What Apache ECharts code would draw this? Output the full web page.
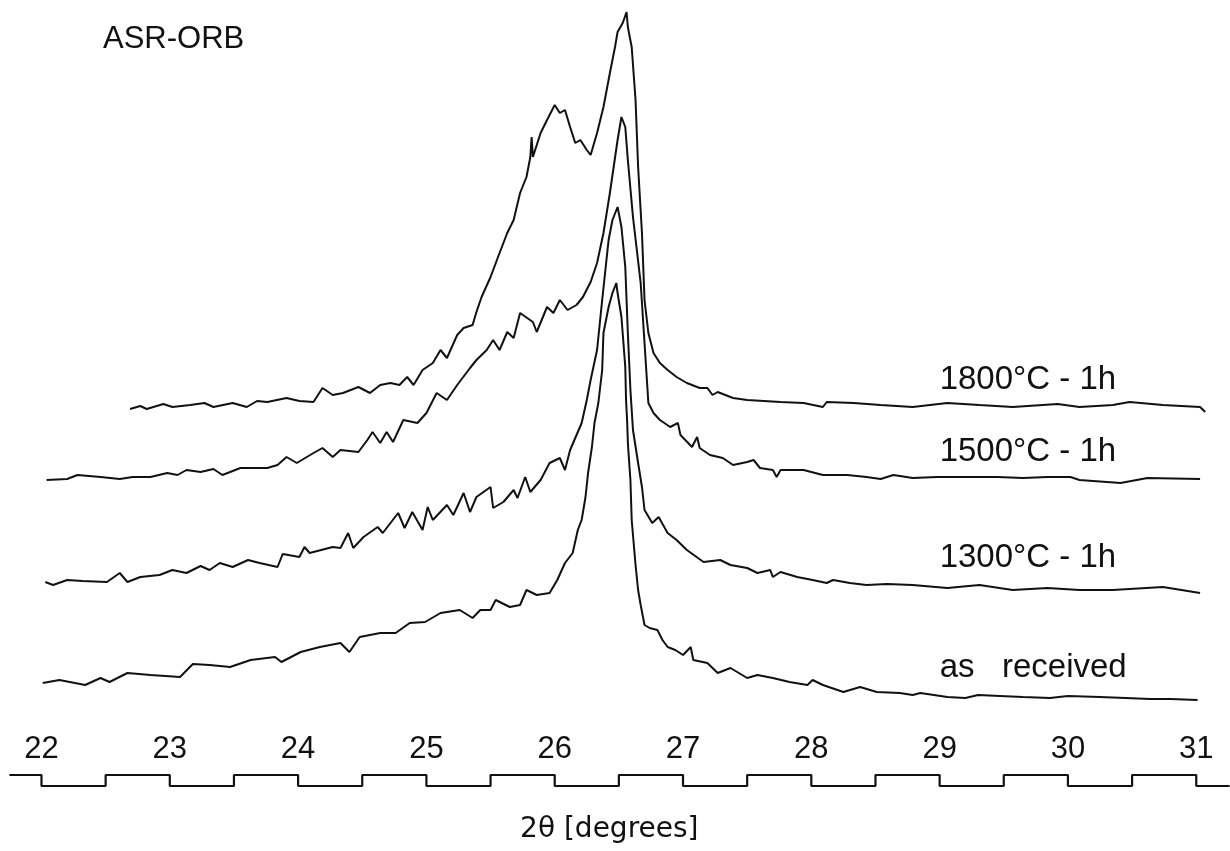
<!DOCTYPE html>
<html>
<head>
<meta charset="utf-8">
<title>ASR-ORB</title>
<script src="https://cdn.jsdelivr.net/npm/echarts@6/dist/echarts.min.js"></script>
<style>
    html, body { margin: 0; padding: 0; background: #fff; }
    #chart { width: 1230px; height: 851px; }
</style>
</head>
<body>
<div id="chart"></div>
<script>
// 2theta [deg] vs intensity (arbitrary units, traces stacked as plotted)
var ticks = [22, 23, 24, 25, 26, 27, 28, 29, 30, 31];
var sampleNames = ['1800°C - 1h', '1500°C - 1h', '1300°C - 1h', 'as   received'];

var asReceived = [
    [22.01, 55], [22.14, 58], [22.34, 53], [22.46, 60], [22.53, 56], [22.67, 65], [22.85, 63],
    [23.08, 61], [23.18, 74], [23.31, 73], [23.47, 71], [23.63, 78], [23.82, 81], [23.87, 76],
    [24.02, 86], [24.17, 91], [24.33, 95], [24.40, 86], [24.48, 101], [24.64, 105], [24.76, 105],
    [24.87, 115], [24.99, 116], [25.11, 125], [25.26, 128], [25.36, 120], [25.42, 128], [25.50, 128],
    [25.54, 138], [25.65, 131], [25.73, 133], [25.78, 148], [25.86, 143], [25.96, 145], [26.02, 158],
    [26.08, 175], [26.14, 185], [26.18, 208], [26.21, 218], [26.24, 241], [26.26, 265], [26.29, 291],
    [26.31, 315], [26.34, 335], [26.37, 368], [26.38, 405], [26.42, 431], [26.45, 445], [26.48, 455],
    [26.49, 445], [26.52, 421], [26.55, 371], [26.556, 338], [26.564, 318], [26.571, 293], [26.59, 258],
    [26.60, 218], [26.63, 173], [26.65, 148], [26.67, 133], [26.70, 113], [26.74, 110], [26.80, 108],
    [26.84, 98], [26.88, 91], [26.94, 88], [27.00, 83], [27.06, 91], [27.08, 78], [27.19, 75],
    [27.27, 65], [27.37, 70], [27.50, 60], [27.58, 63], [27.70, 60], [27.83, 56], [27.97, 53],
    [28.01, 58], [28.09, 53], [28.25, 46], [28.38, 51], [28.51, 46], [28.69, 45], [28.79, 43],
    [28.85, 45], [29.06, 41], [29.20, 40], [29.30, 43], [29.47, 42], [29.65, 41], [29.86, 40],
    [30.00, 42], [30.25, 41], [30.45, 40], [30.64, 39], [30.80, 39], [31.01, 38]
];

var h1300 = [
    [22.03, 156], [22.09, 153], [22.20, 158], [22.32, 157], [22.51, 156], [22.61, 165], [22.67, 156],
    [22.77, 161], [22.92, 163], [23.02, 168], [23.13, 165], [23.24, 172], [23.31, 168], [23.39, 175],
    [23.49, 171], [23.61, 178], [23.70, 175], [23.84, 171], [23.88, 184], [24.01, 181], [24.05, 191],
    [24.09, 185], [24.27, 191], [24.33, 190], [24.39, 205], [24.43, 190], [24.51, 201], [24.62, 211],
    [24.66, 205], [24.78, 225], [24.83, 210], [24.89, 226], [24.97, 208], [25.01, 231], [25.05, 218],
    [25.16, 233], [25.21, 223], [25.29, 245], [25.34, 226], [25.39, 241], [25.50, 251], [25.52, 230],
    [25.60, 236], [25.68, 248], [25.71, 240], [25.77, 261], [25.81, 246], [25.89, 258], [25.96, 275],
    [26.04, 280], [26.08, 268], [26.12, 288], [26.17, 303], [26.21, 315], [26.25, 338], [26.28, 358],
    [26.33, 388], [26.37, 438], [26.42, 498], [26.45, 518], [26.49, 531], [26.52, 511], [26.55, 471],
    [26.57, 405], [26.59, 348], [26.61, 308], [26.65, 275], [26.68, 251], [26.70, 228], [26.76, 215],
    [26.81, 221], [26.88, 205], [26.95, 198], [27.03, 188], [27.16, 176], [27.29, 178], [27.37, 173],
    [27.50, 170], [27.58, 165], [27.68, 168], [27.70, 161], [27.76, 166], [27.89, 161], [28.01, 158],
    [28.12, 155], [28.17, 158], [28.30, 155], [28.43, 153], [28.59, 154], [28.79, 153], [29.06, 150],
    [29.31, 153], [29.57, 148], [29.84, 150], [30.09, 148], [30.35, 148], [30.74, 151], [31.03, 145]
];

var h1500 = [
    [22.04, 258], [22.20, 259], [22.28, 263], [22.46, 261], [22.61, 259], [22.71, 261], [22.85, 261],
    [22.98, 265], [23.06, 263], [23.13, 268], [23.24, 266], [23.34, 269], [23.41, 263], [23.55, 270],
    [23.76, 270], [23.84, 273], [23.91, 281], [23.99, 275], [24.12, 285], [24.19, 290], [24.27, 281],
    [24.33, 288], [24.47, 286], [24.54, 298], [24.58, 306], [24.64, 295], [24.69, 306], [24.74, 296],
    [24.82, 318], [24.93, 315], [25.00, 325], [25.08, 345], [25.16, 338], [25.24, 353], [25.34, 370],
    [25.39, 378], [25.47, 388], [25.52, 398], [25.57, 388], [25.63, 406], [25.68, 400], [25.73, 425],
    [25.83, 416], [25.86, 406], [25.94, 431], [25.99, 425], [26.04, 438], [26.10, 428], [26.17, 433],
    [26.22, 441], [26.28, 456], [26.33, 475], [26.38, 505], [26.43, 545], [26.49, 598], [26.52, 621],
    [26.55, 611], [26.57, 578], [26.61, 521], [26.67, 455], [26.70, 395], [26.73, 335], [26.77, 325],
    [26.82, 318], [26.90, 311], [26.96, 315], [26.98, 303], [27.07, 291], [27.11, 301], [27.13, 290],
    [27.21, 283], [27.31, 280], [27.39, 273], [27.50, 276], [27.55, 278], [27.60, 270], [27.70, 268],
    [27.73, 261], [27.76, 268], [27.94, 268], [28.09, 263], [28.28, 263], [28.43, 261], [28.54, 259],
    [28.64, 263], [28.79, 260], [28.98, 261], [29.18, 261], [29.45, 261], [29.65, 260], [29.84, 261],
    [30.02, 261], [30.09, 258], [30.41, 255], [30.62, 260], [31.03, 259]
];

var h1800 = [
    [22.69, 329], [22.77, 332], [22.82, 329], [22.95, 334], [23.02, 331], [23.16, 333], [23.27, 335],
    [23.34, 331], [23.49, 335], [23.60, 331], [23.68, 337], [23.76, 336], [23.91, 340], [24.01, 337],
    [24.12, 336], [24.19, 350], [24.27, 343], [24.35, 345], [24.47, 351], [24.56, 345], [24.64, 353],
    [24.72, 355], [24.79, 353], [24.85, 361], [24.90, 353], [24.97, 368], [25.05, 375], [25.11, 388],
    [25.16, 380], [25.24, 403], [25.29, 410], [25.36, 413], [25.39, 426], [25.43, 441], [25.50, 461],
    [25.57, 485], [25.63, 505], [25.68, 518], [25.73, 545], [25.78, 561], [25.81, 581], [25.82, 601],
    [25.83, 581], [25.89, 605], [25.94, 618], [26.00, 633], [26.04, 625], [26.08, 628], [26.12, 611],
    [26.16, 595], [26.20, 598], [26.25, 588], [26.28, 583], [26.33, 605], [26.38, 631], [26.43, 665],
    [26.47, 691], [26.49, 706], [26.53, 715], [26.56, 726], [26.57, 711], [26.60, 691], [26.63, 638],
    [26.65, 571], [26.68, 505], [26.70, 438], [26.73, 405], [26.77, 385], [26.82, 375], [26.88, 368],
    [26.95, 361], [27.03, 355], [27.13, 350], [27.19, 350], [27.23, 343], [27.27, 346], [27.39, 340],
    [27.50, 338], [27.76, 336], [27.94, 335], [28.09, 331], [28.12, 336], [28.33, 335], [28.54, 333],
    [28.79, 331], [29.06, 335], [29.31, 333], [29.57, 331], [29.92, 334], [30.09, 331], [30.35, 333],
    [30.48, 336], [30.74, 333], [31.03, 331], [31.07, 326]
];

// the stepped scale bar under the tick labels (high/low every half degree)
var scaleBar = [
    [21.75, 1], [22, 0], [22.5, 1], [23, 0], [23.5, 1], [24, 0], [24.5, 1], [25, 0], [25.5, 1],
    [26, 0], [26.5, 1], [27, 0], [27.5, 1], [28, 0], [28.5, 1], [29, 0], [29.5, 1], [30, 0],
    [30.5, 1], [31, 0], [31.26, 0]
];

var plotFont = '"Liberation Sans", "DejaVu Sans", sans-serif';
var ink = '#111';
// axis range a bit wider than the labelled 22..31 so the ends of the traces show
var xMin = 21.7, xMax = 31.26;

function trace(name, data, labelY) {
    return {
        name: name,
        type: 'line',
        xAxisIndex: 0,
        yAxisIndex: 0,
        data: data,
        showSymbol: false,
        lineStyle: { color: ink, width: 2 },
        markPoint: {
            symbol: 'rect',
            symbolSize: 0,
            silent: true,
            data: [{ coord: [29.0, labelY] }],
            label: {
                show: true,
                position: 'right',
                distance: 0,
                formatter: name,
                color: ink,
                fontFamily: plotFont,
                fontSize: 33
            }
        }
    };
}

var dom = document.getElementById('chart');
var chart = echarts.init(dom);
var option = {
    animation: false,
    backgroundColor: '#fff',
    title: {
        text: 'ASR-ORB',
        left: 98,
        top: 19,
        textStyle: { color: ink, fontFamily: plotFont, fontSize: 31, fontWeight: 'normal' }
    },
    grid: [
        { left: 3, right: 0.4, top: 0, bottom: 121 },
        { left: 3, right: 0.4, top: 775, bottom: 65 }
    ],
    xAxis: [{
        gridIndex: 0,
        type: 'value',
        min: xMin,
        max: xMax,
        axisLine: { show: false },
        axisTick: { show: false },
        splitLine: { show: false },
        axisLabel: {
            customValues: ticks,
            margin: 4,
            color: ink,
            fontFamily: plotFont,
            fontSize: 31
        }
    }, {
        gridIndex: 1,
        type: 'value',
        min: xMin,
        max: xMax,
        axisLine: { show: false },
        axisTick: { show: false },
        splitLine: { show: false },
        axisLabel: { show: false },
        name: '2θ [degrees]',
        nameLocation: 'middle',
        nameGap: 30,
        nameTextStyle: {
            color: ink,
            fontFamily: '"DejaVu Sans", sans-serif',
            fontSize: 28,
            padding: [0, 14, 0, 0]
        }
    }],
    yAxis: [{
        gridIndex: 0,
        type: 'value',
        min: 8,
        max: 738,
        show: false
    }, {
        gridIndex: 1,
        type: 'value',
        min: 0,
        max: 1,
        show: false
    }],
    series: [
        trace(sampleNames[0], h1800, 358),
        trace(sampleNames[1], h1500, 286),
        trace(sampleNames[2], h1300, 180),
        trace(sampleNames[3], asReceived, 70),
        {
            name: 'scale',
            type: 'line',
            xAxisIndex: 1,
            yAxisIndex: 1,
            data: scaleBar,
            step: 'end',
            showSymbol: false,
            lineStyle: { color: ink, width: 2.2 }
        }
    ]
};
chart.setOption(option);
window.addEventListener('resize', function() {
    chart.resize();
});
</script>
</body>
</html>
